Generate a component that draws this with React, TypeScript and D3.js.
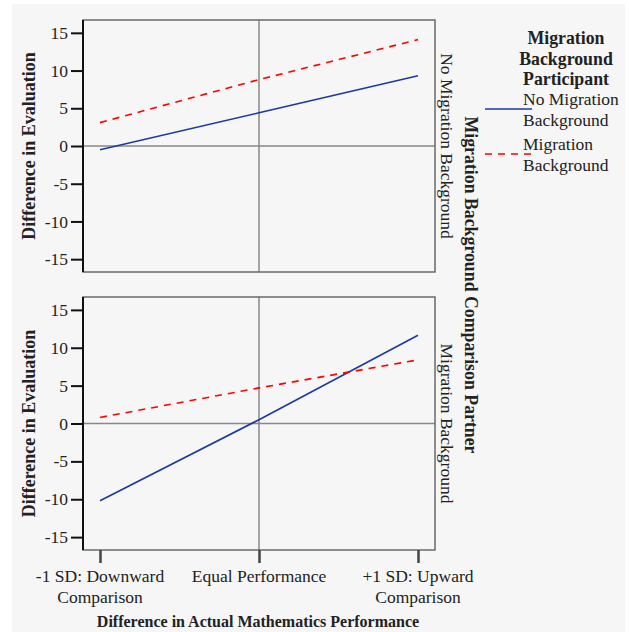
import React, { useEffect, useRef } from 'react';
import * as d3 from 'd3';

const categories = ['-1 SD: Downward\nComparison', 'Equal Performance', '+1 SD: Upward\nComparison'];
const yTicks = [15, 10, 5, 0, -5, -10, -15];

// panel: No Migration Background partner (top)
const topNoMigration = [-0.5, 4.4, 9.3];
const topMigration = [3.1, 8.8, 14.1];
// panel: Migration Background partner (bottom)
const bottomNoMigration = [-10.2, 0.5, 11.65];
const bottomMigration = [0.8, 4.7, 8.4];

const panelNames = ['No Migration Background', 'Migration Background'];
const seriesNames = ['No Migration\nBackground', 'Migration\nBackground'];

const W = 629;
const H = 632;
const FONT = '"Liberation Serif", "Times New Roman", serif';
const FS = 17.5;

const App: React.FC = () => {
  const svgRef = useRef<SVGSVGElement | null>(null);

  useEffect(() => {
    const svg = d3.select(svgRef.current);
    svg.selectAll('*').remove();

    svg.append('rect').attr('x', 12).attr('y', 4).attr('width', 613).attr('height', H - 4).attr('fill', '#f6f6f6');

    const left = 83;
    const right = 435;
    const panels = [
      { top: 20, bottom: 272, data: [topNoMigration, topMigration] },
      { top: 297, bottom: 550, data: [bottomNoMigration, bottomMigration] },
    ];
    const colors = ['#1a3a9e', '#ff0000'];
    const dashes = [null, '7,6'];

    const x = d3.scalePoint<string>().domain(categories).range([left + 17, right - 17]);

    panels.forEach((p, pi) => {
      const y = d3.scaleLinear().domain([-16.7, 16.7]).range([p.bottom, p.top]);
      const g = svg.append('g');

      // reference lines
      g.append('line').attr('x1', left).attr('x2', right).attr('y1', y(0)).attr('y2', y(0))
        .attr('stroke', '#888').attr('stroke-width', 1.5);
      g.append('line').attr('x1', x(categories[1])!).attr('x2', x(categories[1])!)
        .attr('y1', p.top).attr('y2', p.bottom).attr('stroke', '#888').attr('stroke-width', 1.5);

      // frame
      g.append('rect').attr('x', left).attr('y', p.top).attr('width', right - left).attr('height', p.bottom - p.top)
        .attr('fill', 'none').attr('stroke', '#6a6a6a').attr('stroke-width', 1.5);

      // y axis
      const ax = g.append('g').attr('transform', `translate(${left},0)`)
        .call(d3.axisLeft(y).tickValues(yTicks).tickSize(12).tickPadding(3).tickFormat(d => String(d)));
      ax.select('.domain').attr('d', `M0,${p.top}V${p.bottom}`).attr('stroke', '#111').attr('stroke-width', 2);
      ax.selectAll('.tick line').attr('stroke', '#111').attr('stroke-width', 2);
      ax.selectAll('.tick text').attr('font-family', FONT).attr('font-size', FS).attr('fill', '#222');

      // lines
      const line = d3.line<number>().x((_, i) => x(categories[i])!).y(d => y(d));
      p.data.forEach((s, si) => {
        g.append('path').datum(s).attr('d', line).attr('fill', 'none')
          .attr('stroke', colors[si]).attr('stroke-width', 1.6)
          .attr('stroke-dasharray', dashes[si]);
      });

      // y title
      const cy = (p.top + p.bottom) / 2;
      g.append('text').attr('transform', `translate(35,${cy}) rotate(-90)`).attr('text-anchor', 'middle')
        .attr('font-family', FONT).attr('font-weight', 'bold').attr('font-size', 18).attr('fill', '#222')
        .text('Difference in Evaluation');

      // strip label
      g.append('text').attr('transform', `translate(441,${cy}) rotate(90)`).attr('text-anchor', 'middle')
        .attr('font-family', FONT).attr('font-size', FS).attr('fill', '#222')
        .text(panelNames[pi]);
    });

    // x axis
    const xa = svg.append('g').attr('transform', `translate(0,550)`)
      .call(d3.axisBottom(x).tickSize(13).tickFormat(() => ''));
    xa.select('.domain').remove();
    xa.selectAll('.tick line').attr('stroke', '#444').attr('stroke-width', 2.5);
    categories.forEach(c => {
      const t = svg.append('text').attr('text-anchor', 'middle').attr('font-family', FONT)
        .attr('font-size', FS).attr('fill', '#222');
      c.split('\n').forEach((ln, i) => {
        t.append('tspan').attr('x', x(c)!).attr('y', 582 + i * 21).text(ln);
      });
    });
    svg.append('text').attr('x', 258).attr('y', 627).attr('text-anchor', 'middle')
      .attr('font-family', FONT).attr('font-weight', 'bold').attr('font-size', 16).attr('fill', '#222')
      .text('Difference in Actual Mathematics Performance');

    // outer facet title
    svg.append('text').attr('transform', `translate(465,285) rotate(90)`).attr('text-anchor', 'middle')
      .attr('font-family', FONT).attr('font-weight', 'bold').attr('font-size', 17.8).attr('fill', '#222')
      .text('Migration Background Comparison Partner');

    // legend
    const lg = svg.append('g');
    ['Migration', 'Background', 'Participant'].forEach((s, i) => {
      lg.append('text').attr('x', 566).attr('y', 44 + i * 20.5).attr('text-anchor', 'middle')
        .attr('font-family', FONT).attr('font-weight', 'bold').attr('font-size', 17.8).attr('fill', '#222').text(s);
    });
    seriesNames.forEach((s, si) => {
      const yy = 109 + si * 45;
      lg.append('line').attr('x1', 485).attr('x2', 532).attr('y1', yy).attr('y2', yy)
        .attr('stroke', colors[si]).attr('stroke-width', 1.6).attr('stroke-dasharray', dashes[si]);
      s.split('\n').forEach((ln, i) => {
        lg.append('text').attr('x', 523).attr('y', yy - 4 + i * 20.5)
          .attr('font-family', FONT).attr('font-size', FS).attr('fill', '#222').text(ln);
      });
    });
  }, []);

  return (
    <div style={{ position: 'absolute', left: 0, top: 0 }}>
      <svg ref={svgRef} width={W} height={H} style={{ display: 'block' }} />
    </div>
  );
};

export default App;
